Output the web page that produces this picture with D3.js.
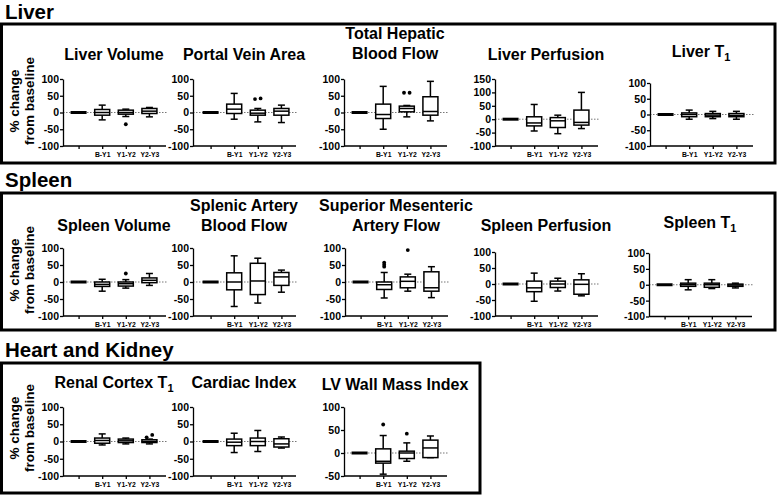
<!DOCTYPE html>
<html><head><meta charset="utf-8">
<script src="https://cdn.jsdelivr.net/npm/d3@7"></script>
<style>
body{margin:0;background:#fff;}
text{font-family:"Liberation Sans",Arial,sans-serif;font-weight:bold;fill:#000;}
</style></head><body>
<svg id="c" width="777" height="496"></svg>
<script>
// ---------- DATA ----------
const categories = ["Baseline","B-Y1","Y1-Y2","Y2-Y3"];
const tickLabels = ["","B-Y1","Y1-Y2","Y2-Y3"];
const ticksStd = [-100,-50,0,50,100];
const ticksPerf = [-100,-50,0,50,100,150];
const ticksLV = [-50,0,50,100];
const sectionTitles = ["Liver","Spleen","Heart and Kidney"];
const yLabel = ["% change","from baseline"];

// each box: [low whisker, Q1, median, Q3, high whisker]
const liverVolume = [[0,0,0,0,0],[-22,-8,0,9,22],[-12,-5,0,7,10],[-13,-3,4,12,15]];
const liverVolumeOut = [[],[],[-35],[]];
const portalVeinArea = [[0,0,0,0,0],[-20,-3,10,25,57],[-28,-8,-2,7,12],[-30,-8,4,12,22]];
const portalVeinAreaOut = [[],[],[40,42],[]];
const hepaticFlow = [[0,0,0,0,0],[-50,-18,-6,25,78],[-13,2,12,19,21],[-25,-8,3,47,93]];
const hepaticFlowOut = [[],[],[59,59],[]];
const liverPerfusion = [[0,0,0,0,0],[-44,-25,-14,9,55],[-54,-31,-6,6,15],[-35,-22,-12,34,100]];
const liverPerfusionOut = [[],[],[],[]];
const liverT1 = [[0,0,0,0,0],[-15,-7,0,5,14],[-13,-7,-2,3,10],[-15,-7,-3,3,10]];
const liverT1Out = [[],[],[],[]];

const spleenVolume = [[0,0,0,0,0],[-27,-13,-7,0,8],[-18,-12,-5,0,7],[-10,-2,5,12,25]];
const spleenVolumeOut = [[],[],[25],[]];
const splenicFlow = [[0,0,0,0,0],[-72,-23,0,27,77],[-62,-37,3,55,70],[-30,-10,15,28,35]];
const splenicFlowOut = [[],[],[],[]];
const smaFlow = [[0,0,0,0,0],[-47,-22,-8,0,28],[-27,-17,2,15,23],[-46,-27,-17,30,45]];
const smaFlowOut = [[],[57,51,45],[94],[]];
const spleenPerfusion = [[0,0,0,0,0],[-54,-24,-12,9,34],[-22,-11,0,9,18],[-37,-32,-1,13,32]];
const spleenPerfusionOut = [[],[],[],[]];
const spleenT1 = [[0,0,0,0,0],[-16,-5,0,5,16],[-12,-8,0,5,16],[-10,-5,-1,2,5]];
const spleenT1Out = [[],[],[],[]];

const renalT1 = [[0,0,0,0,0],[-10,-5,3,10,22],[-7,-3,2,7,10],[-7,-3,0,5,7]];
const renalT1Out = [[],[],[],[12,19]];
const cardiacIndex = [[0,0,0,0,0],[-32,-12,-2,7,24],[-29,-12,0,10,32],[-19,-16,-7,8,13]];
const cardiacIndexOut = [[],[],[],[]];
const lvMass = [[0,0,0,0,0],[-46,-22,-18,9,38],[-18,-12,0,4,22],[-10,-10,11,28,37]];
const lvMassOut = [[],[62],[42],[]];

// ---------- LAYOUT ----------
const panels = [
  {title:["Liver Volume"], stats:liverVolume, out:liverVolumeOut, ticks:ticksStd, ax:63, dx:0, top:79, bot:146, ty:60, ylab:101},
  {title:["Portal Vein Area"], stats:portalVeinArea, out:portalVeinAreaOut, ticks:ticksStd, ax:193, dx:2, top:79, bot:146, ty:60},
  {title:["Total Hepatic","Blood Flow"], stats:hepaticFlow, out:hepaticFlowOut, ticks:ticksStd, ax:344, dx:0, top:79, bot:146, ty:58.5},
  {title:["Liver Perfusion"], stats:liverPerfusion, out:liverPerfusionOut, ticks:ticksPerf, ax:495, dx:0, top:79, bot:146, ty:60},
  {title:["Liver T"], sub:"1", stats:liverT1, out:liverT1Out, ticks:ticksStd, ax:650, dx:0, top:83, bot:146, ty:57},

  {title:["Spleen Volume"], stats:spleenVolume, out:spleenVolumeOut, ticks:ticksStd, ax:63, dx:0, top:248, bot:316, ty:230.5, ylab:270},
  {title:["Splenic Artery","Blood Flow"], stats:splenicFlow, out:splenicFlowOut, ticks:ticksStd, ax:193, dx:2, top:248, bot:316, ty:230.5},
  {title:["Superior Mesenteric","Artery Flow"], stats:smaFlow, out:smaFlowOut, ticks:ticksStd, ax:345, dx:0, top:248, bot:316, ty:230.5},
  {title:["Spleen Perfusion"], stats:spleenPerfusion, out:spleenPerfusionOut, ticks:ticksStd, ax:495, dx:0, top:252, bot:316, ty:230.5},
  {title:["Spleen T"], sub:"1", stats:spleenT1, out:spleenT1Out, ticks:ticksStd, ax:649, dx:0, top:253, bot:316.5, ty:227.5},

  {title:["Renal Cortex T"], sub:"1", stats:renalT1, out:renalT1Out, ticks:ticksStd, ax:63, dx:0, top:407, bot:476, ty:387.5, ylab:428},
  {title:["Cardiac Index"], stats:cardiacIndex, out:cardiacIndexOut, ticks:ticksStd, ax:193, dx:2, top:407, bot:476, ty:388},
  {title:["LV Wall Mass Index"], stats:lvMass, out:lvMassOut, ticks:ticksLV, ax:344, dx:0, top:407, bot:476, ty:389.5}
];
const sections = [
  {x:1.5, y:24, w:773.5, h:139, ty:18.5},
  {x:1.5, y:193, w:773.5, h:137, ty:186.5},
  {x:1.5, y:363, w:478.5, h:130, ty:357}
];

const svg = d3.select("#c");

sections.forEach((s,i)=>{
  svg.append("rect").attr("x",s.x).attr("y",s.y).attr("width",s.w).attr("height",s.h)
    .attr("fill","none").attr("stroke","#000").attr("stroke-width",3);
  svg.append("text").attr("x",5).attr("y",s.ty).attr("font-size",20.5).text(sectionTitles[i]);
});

const PW = 102, BW = 15, CW = 7;

panels.forEach(p=>{
  const g = svg.append("g");
  const x = d3.scalePoint().domain(categories).range([p.ax+p.dx, p.ax+p.dx+PW]).padding(0.66);
  const y = d3.scaleLinear().domain([p.ticks[0], p.ticks[p.ticks.length-1]]).range([p.bot, p.top]);

  // title
  const cx = p.ax + 51;
  p.title.forEach((t,i)=>{
    const tx = g.append("text").attr("x",cx).attr("y",p.ty - (p.title.length-1-i)*20)
      .attr("text-anchor","middle").attr("font-size",16).text(t);
    if (p.sub && i===p.title.length-1) {
      tx.append("tspan").attr("font-size",11).attr("dy",4).text(p.sub);
    }
  });

  // y label
  if (p.ylab) {
    yLabel.forEach((t,i)=>{
      g.append("text").attr("transform",`translate(${i===0?18.5:33.5},${p.ylab}) rotate(-90)`)
        .attr("text-anchor","middle").attr("font-size",13.5).text(t);
    });
  }

  // zero dotted line
  g.append("line").attr("x1",p.ax).attr("x2",p.ax+PW+3).attr("y1",y(0)).attr("y2",y(0))
    .attr("stroke","#777").attr("stroke-width",1).attr("stroke-dasharray","1.5,1.5");

  // y axis
  const ya = g.append("g").attr("transform",`translate(${p.ax},0)`)
    .call(d3.axisLeft(y).tickValues(p.ticks).tickSize(3).tickSizeOuter(0).tickPadding(1).tickFormat(d=>String(d)));
  ya.select(".domain").attr("stroke-width",1.3);
  ya.selectAll(".tick line").attr("stroke-width",1.3);
  ya.selectAll("text").attr("font-size",10.5).attr("font-family",'"Liberation Sans",Arial,sans-serif').attr("font-weight","bold");

  // x axis
  const xa = g.append("g").attr("transform",`translate(0,${p.bot})`)
    .call(d3.axisBottom(x).tickSize(3).tickSizeOuter(0).tickPadding(3).tickFormat((d,i)=>tickLabels[i]));
  xa.select(".domain").attr("d",`M${p.ax},0H${p.ax+PW+1}`).attr("stroke-width",1.3);
  xa.selectAll(".tick line").attr("stroke-width",1.3);
  xa.selectAll("text").attr("font-size",6.8).attr("font-family",'"Liberation Sans",Arial,sans-serif').attr("font-weight","bold");

  // boxes
  categories.forEach((c,i)=>{
    const s = p.stats[i];
    const xc = x(c);
    if (s.every(v=>v===0)) {
      g.append("rect").attr("x",xc-8).attr("y",y(0)-1.5).attr("width",16).attr("height",3).attr("fill","#000");
      return;
    }
    const [lo,q1,med,q3,hi] = s;
    const ln = (x1,y1,x2,y2)=>g.append("line").attr("x1",x1).attr("y1",y1).attr("x2",x2).attr("y2",y2)
      .attr("stroke","#000").attr("stroke-width",1.5);
    ln(xc,y(hi),xc,y(q3));
    ln(xc,y(q1),xc,y(lo));
    ln(xc-CW/2,y(hi),xc+CW/2,y(hi));
    ln(xc-CW/2,y(lo),xc+CW/2,y(lo));
    g.append("rect").attr("x",xc-BW/2).attr("y",y(q3)).attr("width",BW).attr("height",Math.max(0.1,y(q1)-y(q3)))
      .attr("fill","#fff").attr("stroke","#000").attr("stroke-width",1.5);
    ln(xc-BW/2,y(med),xc+BW/2,y(med));
    const o = p.out[i];
    o.forEach((v,k)=>{
      const off = o.length===2 ? (k===0?-2.8:2.8) : 0;
      g.append("circle").attr("cx",xc+off).attr("cy",y(v)).attr("r",1.9).attr("fill","#000");
    });
  });
});
</script>
</body></html>
